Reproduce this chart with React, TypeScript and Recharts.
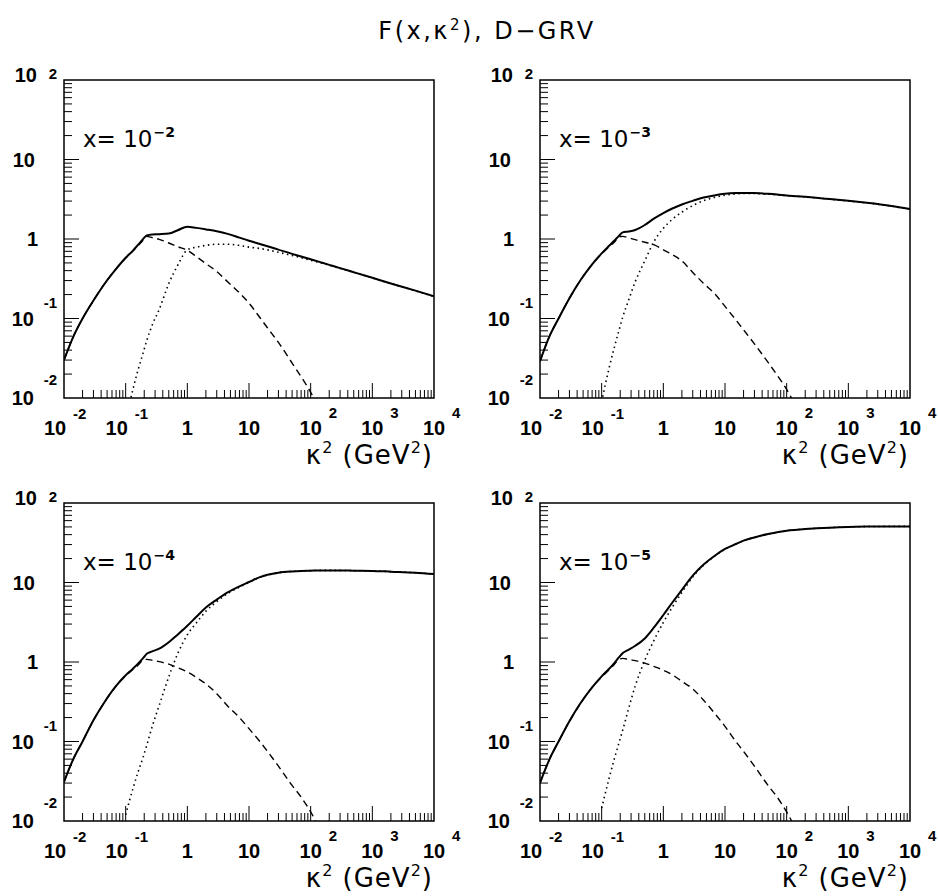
import { LineChart, Line, XAxis, YAxis, ReferenceArea } from "recharts";

// kappa^2 grid (GeV^2)
const kappa = [
  0.01, 0.014, 0.02, 0.03, 0.045, 0.07, 0.1, 0.13, 0.16, 0.19, 0.22, 0.27, 0.35,
  0.5, 0.7, 1, 1.4, 2, 3, 4.5, 7, 10, 15, 20, 30, 50, 70, 100, 150, 200, 300,
  500, 1000, 2000, 5000, 10000,
];

// x = 1e-2
const total2 = [
  0.03, 0.058, 0.1, 0.168, 0.27, 0.42, 0.58, 0.71, 0.85, 0.99, 1.11, 1.14, 1.15,
  1.17, 1.29, 1.43, 1.38, 1.32, 1.25, 1.16, 1.04, 0.95, 0.866, 0.81, 0.735,
  0.65, 0.603, 0.556, 0.506, 0.473, 0.43, 0.382, 0.325, 0.276, 0.224, 0.19,
];
const soft2 = [
  0.03, 0.058, 0.1, 0.168, 0.27, 0.42, 0.575, 0.7, 0.83, 0.96, 1.08, 1.04, 0.99,
  0.89, 0.8, 0.72, 0.6, 0.49, 0.39, 0.29, 0.21, 0.156, 0.103, 0.076, 0.05,
  0.0275, 0.0185, 0.0118, 0.0063, 0.0035, null, null, null, null, null, null,
];
const hard2 = [
  null, null, null, null, null, null, 0.005, 0.0125, 0.023, 0.036, 0.053, 0.083,
  0.13, 0.275, 0.47, 0.73, 0.79, 0.83, 0.86, 0.86, 0.83, 0.79, 0.76, 0.73, 0.68,
  0.62, 0.583, 0.54, 0.498, 0.468, 0.427, 0.38, 0.324, 0.275, 0.223, 0.189,
];

// x = 1e-3
const total3 = [
  0.029, 0.058, 0.1, 0.18, 0.3, 0.48, 0.66, 0.81, 0.95, 1.09, 1.21, 1.24, 1.3,
  1.5, 1.8, 2.12, 2.42, 2.72, 3.02, 3.32, 3.56, 3.7, 3.78, 3.8, 3.78, 3.7, 3.62,
  3.52, 3.45, 3.39, 3.3, 3.18, 3.02, 2.85, 2.6, 2.38,
];
const soft3 = [
  0.029, 0.058, 0.1, 0.18, 0.3, 0.48, 0.65, 0.79, 0.91, 1.06, 1.08, 1.04, 0.98,
  0.91, 0.85, 0.73, 0.635, 0.53, 0.38, 0.276, 0.2, 0.142, 0.096, 0.072, 0.048,
  0.028, 0.0194, 0.0128, 0.007, 0.004, null, null, null, null, null, null,
];
const hard3 = [
  null, null, null, null, null, null, 0.009, 0.0227, 0.043, 0.07, 0.105, 0.165,
  0.29, 0.53, 0.92, 1.36, 1.77, 2.18, 2.63, 3.04, 3.36, 3.56, 3.68, 3.73, 3.73,
  3.67, 3.6, 3.51, 3.44, 3.38, 3.29, 3.17, 3.01, 2.84, 2.59, 2.37,
];

// x = 1e-4
const total4 = [
  0.031, 0.059, 0.1, 0.185, 0.31, 0.5, 0.68, 0.82, 0.96, 1.11, 1.27, 1.36, 1.47,
  1.77, 2.22, 2.85, 3.7, 4.85, 6.1, 7.5, 8.95, 10.15, 11.7, 12.5, 13.3, 13.8,
  14.0, 14.1, 14.2, 14.2, 14.2, 14.1, 14.0, 13.7, 13.3, 12.8,
];
const soft4 = [
  0.031, 0.059, 0.1, 0.185, 0.31, 0.5, 0.67, 0.8, 0.92, 1.05, 1.08, 1.05, 1.01,
  0.94, 0.85, 0.75, 0.64, 0.53, 0.4, 0.28, 0.2, 0.145, 0.1, 0.075, 0.049, 0.028,
  0.02, 0.013, 0.007, 0.004, null, null, null, null, null, null,
];
const hard4 = [
  null, null, null, null, null, null, 0.012, 0.025, 0.042, 0.062, 0.09, 0.155,
  0.285, 0.65, 1.28, 2.2, 3.1, 4.35, 5.75, 7.25, 8.75, 10.0, 11.6, 12.43, 13.25,
  13.77, 13.98, 14.09, 14.19, 14.19, 14.19, 14.09, 13.99, 13.69, 13.29, 12.79,
];

// x = 1e-5
const total5 = [
  0.03, 0.058, 0.1, 0.18, 0.3, 0.48, 0.66, 0.81, 0.97, 1.14, 1.3, 1.42, 1.6,
  1.98, 2.7, 3.9, 5.6, 8.1, 12.2, 16.8, 22, 26.4, 30.5, 33.6, 36.9, 40.8, 42.8,
  44.9, 46.2, 47.1, 48.0, 49.0, 50.0, 50.5, 50.8, 50.8,
];
const soft5 = [
  0.03, 0.058, 0.1, 0.18, 0.3, 0.48, 0.65, 0.79, 0.93, 1.08, 1.11, 1.08, 1.04,
  0.97, 0.88, 0.79, 0.69, 0.57, 0.46, 0.33, 0.22, 0.155, 0.1, 0.075, 0.049,
  0.028, 0.02, 0.013, 0.007, 0.004, null, null, null, null, null, null,
];
const hard5 = [
  null, null, null, null, null, null, 0.0145, 0.033, 0.06, 0.095, 0.14, 0.25,
  0.5, 1.05, 1.85, 3.15, 4.9, 7.5, 11.75, 16.5, 21.8, 26.25, 30.4, 33.52, 36.85,
  40.77, 42.78, 44.89, 46.19, 47.09, 47.99, 48.99, 49.99, 50.49, 50.79, 50.79,
];

const xLabels = ["−2", "−3", "−4", "−5"];

// log ticks: 1..9 x 10^d
function logTicks(from: number, to: number) {
  const t: number[] = [];
  for (let d = from; d < to; d++) {
    for (let m = 1; m <= 9; m++) t.push(Number((m * Math.pow(10, d)).toPrecision(6)));
  }
  t.push(Math.pow(10, to));
  return t;
}
const xTicks = logTicks(-2, 4);
const yTicks = logTicks(-2, 2);

const numFont = "'Liberation Sans', Arial, sans-serif";
const txtFont = "'DejaVu Sans', sans-serif";

function decade(v: number) {
  const lg = Math.log10(v);
  const e = Math.round(lg);
  return { e, major: Math.abs(lg - e) < 1e-6 };
}

function XTick(props: any) {
  const { x, y, payload } = props;
  const { e, major } = decade(payload.value);
  let label = null;
  if (major) {
    if (e === 0 || e === 1) {
      label = (
        <text x={x} y={y + 37} textAnchor="middle" fontSize={20} fontWeight="bold" fontFamily={numFont}>
          {e === 0 ? "1" : "10"}
        </text>
      );
    } else {
      const bx = e < 0 ? x - 9 : x;
      label = (
        <g fontWeight="bold" fontFamily={numFont}>
          <text x={bx} y={y + 37} textAnchor="middle" fontSize={20}>10</text>
          <text x={bx + 18} y={y + (e < 0 ? 21 : 19.5)} fontSize={15}>{e}</text>
        </g>
      );
    }
  }
  return (
    <g>
      {x > 65 && x < 433 && (
        <line x1={x} x2={x} y1={y} y2={y - (major ? 15 : 8)} stroke="#000" strokeWidth={1} />
      )}
      {label}
    </g>
  );
}

function YTick(props: any) {
  const { x, y, payload } = props;
  const { e, major } = decade(payload.value);
  let label = null;
  if (major) {
    if (e === 0) {
      label = (
        <text x={x - 26} y={y + 7} textAnchor="end" fontSize={20} fontWeight="bold" fontFamily={numFont}>1</text>
      );
    } else if (e === 1) {
      label = (
        <text x={x - 29} y={y + 7.5} textAnchor="end" fontSize={20} fontWeight="bold" fontFamily={numFont}>10</text>
      );
    } else {
      const by = e === 2 ? y + 2 : y + 7;
      const ey = e === 2 ? y - 1 : e === -1 ? y - 11 : y - 13;
      label = (
        <g fontWeight="bold" fontFamily={numFont}>
          <text x={x - (e > 0 ? 27 : 30)} y={by} textAnchor="end" fontSize={20}>10</text>
          <text x={x - 7} y={ey} textAnchor="end" fontSize={15}>{e}</text>
        </g>
      );
    }
  }
  return (
    <g>
      {y > 81 && y < 397 && (
        <line x1={x} x2={x + (major ? 15 : 8)} y1={y} y2={y} stroke="#000" strokeWidth={1} />
      )}
      {label}
    </g>
  );
}

const panels = [
  { left: 0, top: 0, total: total2, soft: soft2, hard: hard2 },
  { left: 476, top: 0, total: total3, soft: soft3, hard: hard3 },
  { left: 0, top: 423, total: total4, soft: soft4, hard: hard4 },
  { left: 476, top: 423, total: total5, soft: soft5, hard: hard5 },
];

type Series = (number | null)[];

function Panel({ total, soft, hard }: { total: Series; soft: Series; hard: Series }) {
  const data = kappa.map((k, i) => ({ k, total: total[i], soft: soft[i], hard: hard[i] }));
  return (
    <LineChart width={462} height={445} data={data} margin={{ top: 80, right: 28, bottom: 0, left: 0 }}>
      <XAxis
        dataKey="k"
        type="number"
        scale="log"
        domain={[0.01, 10000]}
        ticks={xTicks}
        interval={0}
        allowDataOverflow
        height={47}
        tickSize={0}
        tickMargin={0}
        tickLine={false}
        axisLine={false}
        tick={<XTick />}
      />
      <YAxis
        type="number"
        scale="log"
        domain={[0.01, 100]}
        ticks={yTicks}
        interval={0}
        allowDataOverflow
        width={64}
        tickSize={0}
        tickMargin={0}
        tickLine={false}
        axisLine={false}
        tick={<YTick />}
      />
      <ReferenceArea x1={0.01} x2={10000} y1={0.01} y2={100} fill="none" stroke="#000" strokeWidth={1.5} />
      <Line dataKey="soft" type="monotone" stroke="#000" strokeWidth={1.4} strokeDasharray="7 4.5" dot={false} activeDot={false} isAnimationActive={false} />
      <Line dataKey="hard" type="monotone" stroke="#000" strokeWidth={1.6} strokeDasharray="1.5 3.5" dot={false} activeDot={false} isAnimationActive={false} />
      <Line dataKey="total" type="monotone" stroke="#000" strokeWidth={2} dot={false} activeDot={false} isAnimationActive={false} />
    </LineChart>
  );
}

export default function App() {
  const boxes = [
    { L: 64, T: 80, R: 434, B: 398 },
    { L: 540, T: 80, R: 910, B: 398 },
    { L: 64, T: 503, R: 434, B: 821 },
    { L: 540, T: 503, R: 910, B: 821 },
  ];
  return (
    <div style={{ position: "absolute", left: 0, top: 0, width: 938, height: 896, background: "#fff", overflow: "hidden" }}>
      {panels.map((p, i) => (
        <div key={i} style={{ position: "absolute", left: p.left, top: p.top }}>
          <Panel total={p.total} soft={p.soft} hard={p.hard} />
        </div>
      ))}
      <svg width={938} height={896} style={{ position: "absolute", left: 0, top: 0, pointerEvents: "none" }}>
        <text x={487} y={39} textAnchor="middle" fontSize={24} letterSpacing={2.5} fontFamily={txtFont}>
          F(x,κ<tspan dy={-9} fontSize={15}>2</tspan>
          <tspan dy={9}>), D−GRV</tspan>
        </text>
        {boxes.map((b, i) => (
          <g key={i} fontFamily={txtFont}>
            <text x={b.L + 19} y={b.T + 67} fontSize={23}>
              x= 10
              <tspan dx={1} dy={-10} fontSize={14} fontWeight="bold">{xLabels[i]}</tspan>
            </text>
            <text x={b.R - 1} y={b.B + 66} textAnchor="end" fontSize={26} letterSpacing={1}>
              κ<tspan dy={-11} fontSize={16}>2</tspan>
              <tspan dy={11}> (GeV</tspan>
              <tspan dy={-11} fontSize={16}>2</tspan>
              <tspan dy={11}>)</tspan>
            </text>
          </g>
        ))}
      </svg>
    </div>
  );
}
